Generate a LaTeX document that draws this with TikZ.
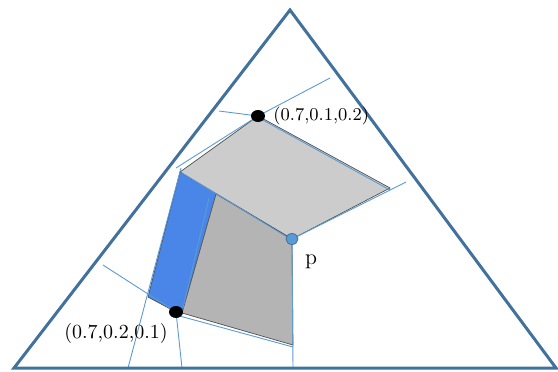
\documentclass[tikz,border=0pt]{standalone}
\usetikzlibrary{shapes.geometric}
\definecolor{triblue}{RGB}{65,113,156}
\definecolor{lineblue}{RGB}{91,155,213}
\definecolor{stripblue}{RGB}{74,134,232}
\definecolor{lightgrayfill}{RGB}{204,204,204}
\definecolor{darkgrayfill}{RGB}{180,180,180}
\definecolor{edgegray}{RGB}{80,80,80}
\begin{document}
\begin{tikzpicture}[x=0.5pt,y=-0.5pt,
  tri/.style={draw=triblue,line width=1.5pt,line join=miter},
  vline/.style={draw=lineblue,line width=0.45pt},
  poly/.style={draw=edgegray,line width=0.35pt},
  bigdot/.style={ellipse,fill=black,minimum width=7pt,minimum height=6pt,inner sep=0},
  pdot/.style={ellipse,fill=lineblue,draw=triblue,line width=0.4pt,minimum width=6pt,minimum height=5.5pt,inner sep=0},
  lbl/.style={inner sep=0}]
\useasboundingbox (0,0) rectangle (558,371);
% triangle
\coordinate (A) at (290,10);
\coordinate (B) at (14,368);
\coordinate (C) at (556,368);
% polygon vertices
\coordinate (T) at (258,116);
\coordinate (L) at (180,172);
\coordinate (R) at (390,188);
\coordinate (P) at (292,239);
\coordinate (M) at (216,194);
\coordinate (Q) at (293,345);
\coordinate (E) at (182,313);
\coordinate (D) at (176,312);
\coordinate (F) at (148,297);
% line ends
\coordinate (l1) at (176,168);
\coordinate (l2) at (219,111);
\coordinate (l3) at (330,78);
\coordinate (l4) at (406,182);
\coordinate (l5) at (293,368);
\coordinate (l6) at (182,368);
\coordinate (l7) at (103,265);
\coordinate (l8) at (128,368);
\coordinate (l9) at (209,198);
\coordinate (l10) at (183,308);
\coordinate (l11) at (181,168);
% fills
\fill[lightgrayfill] (T) -- (R) -- (P) -- (L) -- cycle;
\fill[stripblue] (L) -- (M) -- (E) -- (D) -- (F) -- cycle;
\fill[darkgrayfill] (M) -- (P) -- (Q) -- (E) -- cycle;
\draw[poly] (T) -- (R) -- (P) -- (L) -- cycle;
\draw[poly] (M) -- (P) -- (Q) -- (E) -- cycle;
\draw[poly] (L) -- (F) -- (D);
% thin blue lines
\draw[vline] (l1) -- (T);
\draw[vline] (l2) -- (T);
\draw[vline] (T) -- (l3);
\draw[vline] ([shift={(3,3)}]T) -- ([shift={(0,2)}]R);
\draw[vline] (P) -- (l4);
\draw[vline] (P) -- (l5);
\draw[vline] ([shift={(2,1)}]L) -- ([shift={(0,1)}]P);
\draw[vline] (l9) -- (l10);
\draw[vline] (D) -- (l6);
\draw[vline] (l7) -- (D);
\draw[vline] (l8) -- (l11);
\draw[vline] ([shift={(0,3)}]D) -- ([shift={(0,2)}]Q);
% triangle
\draw[tri] (A) -- (B) -- (C) -- cycle;
% dots
\node[bigdot] (dt) at (T) {};
\node[bigdot] (db) at (D) {};
\node[pdot] (dp) at (P) {};
% labels
\node[lbl,anchor=west,font=\fontsize{9}{10}\selectfont] (lt) at (273,116) {(0.7,0.1,0.2)};
\node[lbl,font=\fontsize{10}{11}\selectfont] (lb) at (116,333) {(0.7,0.2,0.1)};
\node[lbl,font=\fontsize{11}{12}\selectfont] (lp) at (311,262) {p};
\end{tikzpicture}
\end{document}
